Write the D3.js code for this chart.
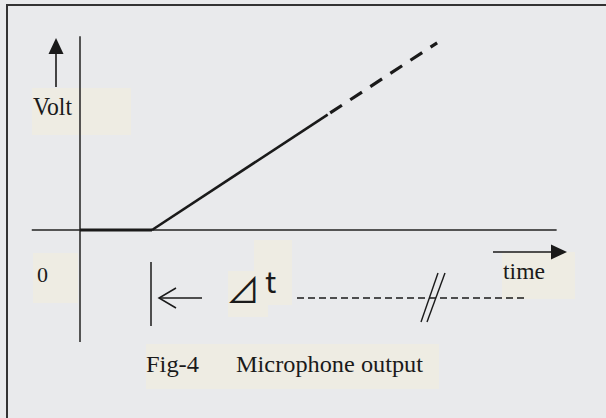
<!DOCTYPE html>
<html>
<head>
<meta charset="utf-8">
<script src="https://cdn.jsdelivr.net/npm/d3@7"></script>
<style>
  html, body { margin: 0; padding: 0; background: #e9eaec; }
  svg { display: block; }
</style>
</head>
<body>
<svg id="chart" width="606" height="418"></svg>
<script>
// signal points, [time, volt] with dt = 1 time unit
const flatSignal = [[0, 0], [1, 0]];
const solidSignal = [[1, 0], [3.44, 2.96]];
const dashedSignal = [[3.44, 2.96], [4.96, 4.8]];
const timeAxisExtent = [-0.67, 6.62];
const voltAxisExtent = [-2.87, 4.97];
const labels = { volt: 'Volt', zero: '0', time: 'time', delta: '⊿', t: 't', fig: 'Fig-4', caption: 'Microphone output' };

const svg = d3.select('#chart');
const x = d3.scaleLinear().domain([0, 1]).range([80, 152]);
const y = d3.scaleLinear().domain([0, 1]).range([230, 191]);
const line = d3.line().x(d => x(d[0])).y(d => y(d[1]));

svg.append('rect').attr('width', 606).attr('height', 418).attr('fill', '#e9eaec');
// frame (only top and left edges are in view)
svg.append('rect').attr('x', 7).attr('y', 5).attr('width', 640).attr('height', 460)
  .attr('fill', 'none').attr('stroke', '#333').attr('stroke-width', 2);

// highlight boxes behind the text
const boxes = [
  [32, 88, 99, 47], [33, 253, 45, 50], [228, 271, 40, 46], [254, 240, 38, 65],
  [502, 252, 73, 47], [146, 344, 293, 45]
];
svg.selectAll('.hl').data(boxes).enter().append('rect')
  .attr('x', d => d[0]).attr('y', d => d[1]).attr('width', d => d[2]).attr('height', d => d[3])
  .attr('fill', '#eeece3');

// axes
svg.append('line').attr('x1', x(0)).attr('x2', x(0)).attr('y1', y(voltAxisExtent[0])).attr('y2', y(voltAxisExtent[1]))
  .attr('stroke', '#222').attr('stroke-width', 1.5);
svg.append('line').attr('x1', x(timeAxisExtent[0])).attr('x2', x(timeAxisExtent[1])).attr('y1', y(0)).attr('y2', y(0))
  .attr('stroke', '#222').attr('stroke-width', 1.5);

// signal
svg.append('path').attr('d', line(flatSignal)).attr('fill', 'none').attr('stroke', '#1a1a1a').attr('stroke-width', 3);
svg.append('path').attr('d', line(solidSignal)).attr('fill', 'none').attr('stroke', '#1a1a1a').attr('stroke-width', 2.6);
svg.append('path').attr('d', line(dashedSignal)).attr('fill', 'none').attr('stroke', '#1a1a1a').attr('stroke-width', 3.2)
  .attr('stroke-dasharray', '14,10').attr('stroke-dashoffset', -3);

// up arrow next to Volt
svg.append('line').attr('x1', 56).attr('x2', 56).attr('y1', 87).attr('y2', 52).attr('stroke', '#1a1a1a').attr('stroke-width', 1.6);
svg.append('path').attr('d', 'M56,38 L63.5,54 L48.5,54 Z').attr('fill', '#1a1a1a');

// time arrow
svg.append('line').attr('x1', 493).attr('x2', 553).attr('y1', 252).attr('y2', 252).attr('stroke', '#1a1a1a').attr('stroke-width', 1.6);
svg.append('path').attr('d', 'M567,252 L551,244.5 L551,259.5 Z').attr('fill', '#1a1a1a');

// dt marker and left arrow
svg.append('line').attr('x1', x(1) - 1).attr('x2', x(1) - 1).attr('y1', 262).attr('y2', 326).attr('stroke', '#1a1a1a').attr('stroke-width', 1.5);
svg.append('line').attr('x1', 159).attr('x2', 202).attr('y1', 298).attr('y2', 298).attr('stroke', '#1a1a1a').attr('stroke-width', 1.5);
svg.append('path').attr('d', 'M176,288 L159,298 L176,308').attr('fill', 'none').attr('stroke', '#1a1a1a').attr('stroke-width', 1.5);

// dashed continuation with break mark
svg.append('line').attr('x1', 297).attr('x2', 525).attr('y1', 298).attr('y2', 298)
  .attr('stroke', '#1a1a1a').attr('stroke-width', 1.4).attr('stroke-dasharray', '7,4');
svg.append('line').attr('x1', 421).attr('x2', 438).attr('y1', 322).attr('y2', 273).attr('stroke', '#1a1a1a').attr('stroke-width', 1.4);
svg.append('line').attr('x1', 427).attr('x2', 445).attr('y1', 322).attr('y2', 273).attr('stroke', '#1a1a1a').attr('stroke-width', 1.4);

// text
const serif = '"Liberation Serif", "Times New Roman", serif';
function txt(s, tx, ty, size, len, family) {
  const t = svg.append('text').attr('x', tx).attr('y', ty).attr('font-family', family || serif)
    .attr('font-size', size).attr('fill', '#1a1a1a').text(s);
  if (len) t.attr('textLength', len).attr('lengthAdjust', 'spacingAndGlyphs');
  return t;
}
txt(labels.volt, 33, 115, 25, 39);
txt(labels.zero, 37, 282, 22);
txt(labels.time, 503, 279, 24, 42);
txt(labels.delta, 226, 303, 34, null, '"Noto Sans CJK SC", "DejaVu Sans", sans-serif');
txt(labels.t, 265, 293, 30, null, '"Noto Sans CJK SC", "DejaVu Sans", sans-serif');
txt(labels.fig, 146, 372, 23, 53);
txt(labels.caption, 236, 372, 23, 187);
</script>
</body>
</html>
